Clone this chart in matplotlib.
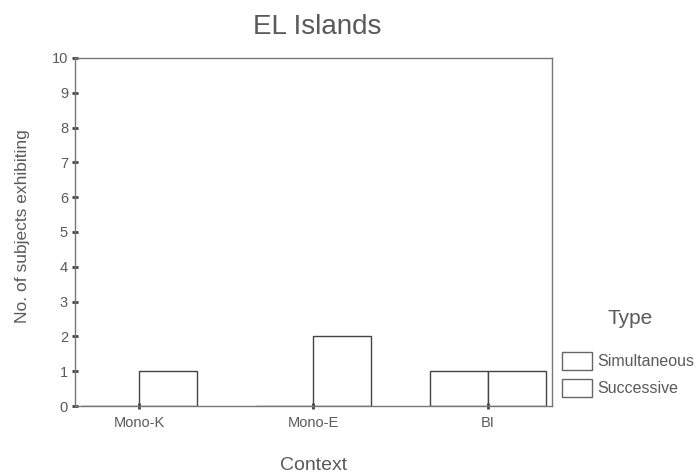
import numpy as np
import matplotlib.pyplot as plt
from matplotlib.patches import Patch

plt.rcParams['font.family'] = ['Liberation Sans', 'DejaVu Sans']

# Datos
contextos = ['Mono-K', 'Mono-E', 'BI']
simultaneous = [0, 0, 1]
successive = [1, 2, 1]
tipos = ['Simultaneous', 'Successive']

gris = '#5a5a5a'

fig = plt.figure(figsize=(7, 4.75), dpi=100)
ax = fig.add_axes([75 / 700, 1 - 406 / 475, 477 / 700, 348 / 475])

x = np.arange(len(contextos))
ancho = 0.33
ax.bar(x - ancho / 2, simultaneous, ancho, color='white', edgecolor='#444444', linewidth=1.0)
ax.bar(x + ancho / 2, successive, ancho, color='white', edgecolor='#444444', linewidth=1.0)

ax.set_xlim(-0.366, 2.366)
ax.set_ylim(0, 10)
ax.set_yticks(range(0, 11))
ax.set_xticks(x)
ax.set_xticklabels(contextos)

for s in ax.spines.values():
    s.set_color('#777777')
    s.set_linewidth(1.0)

ax.tick_params(axis='both', direction='inout', length=4, width=2, color='#444444',
               labelsize=10.5, labelcolor=gris, pad=3)
ax.tick_params(axis='x', pad=5)

# Titulo y etiquetas de ejes
fig.text(317 / 700, 1 - 27 / 475, 'EL Islands', fontsize=20, color=gris, ha='center', va='center')
fig.text(314 / 700, 1 - 465 / 475, 'Context', fontsize=14, color=gris, ha='center', va='center')
fig.text(23 / 700, 1 - 226 / 475, 'No. of subjects exhibiting', fontsize=12.5, color=gris,
         ha='center', va='center', rotation=90)

# Leyenda (titulo aparte para controlar el espacio)
fig.text(630 / 700, 1 - 318 / 475, 'Type', fontsize=15, color=gris, ha='center', va='center')
handles = [Patch(facecolor='white', edgecolor='#666666', label=t) for t in tipos]
leg = fig.legend(handles=handles, loc='upper left', bbox_to_anchor=(556 / 700, 1 - 346 / 475),
                 frameon=False, fontsize=11.5, handlelength=1.85,
                 handleheight=1.3, labelspacing=0.6, handletextpad=0.35, borderaxespad=0)
for t in leg.get_texts():
    t.set_color(gris)

fig.savefig('out.png', dpi=100)
